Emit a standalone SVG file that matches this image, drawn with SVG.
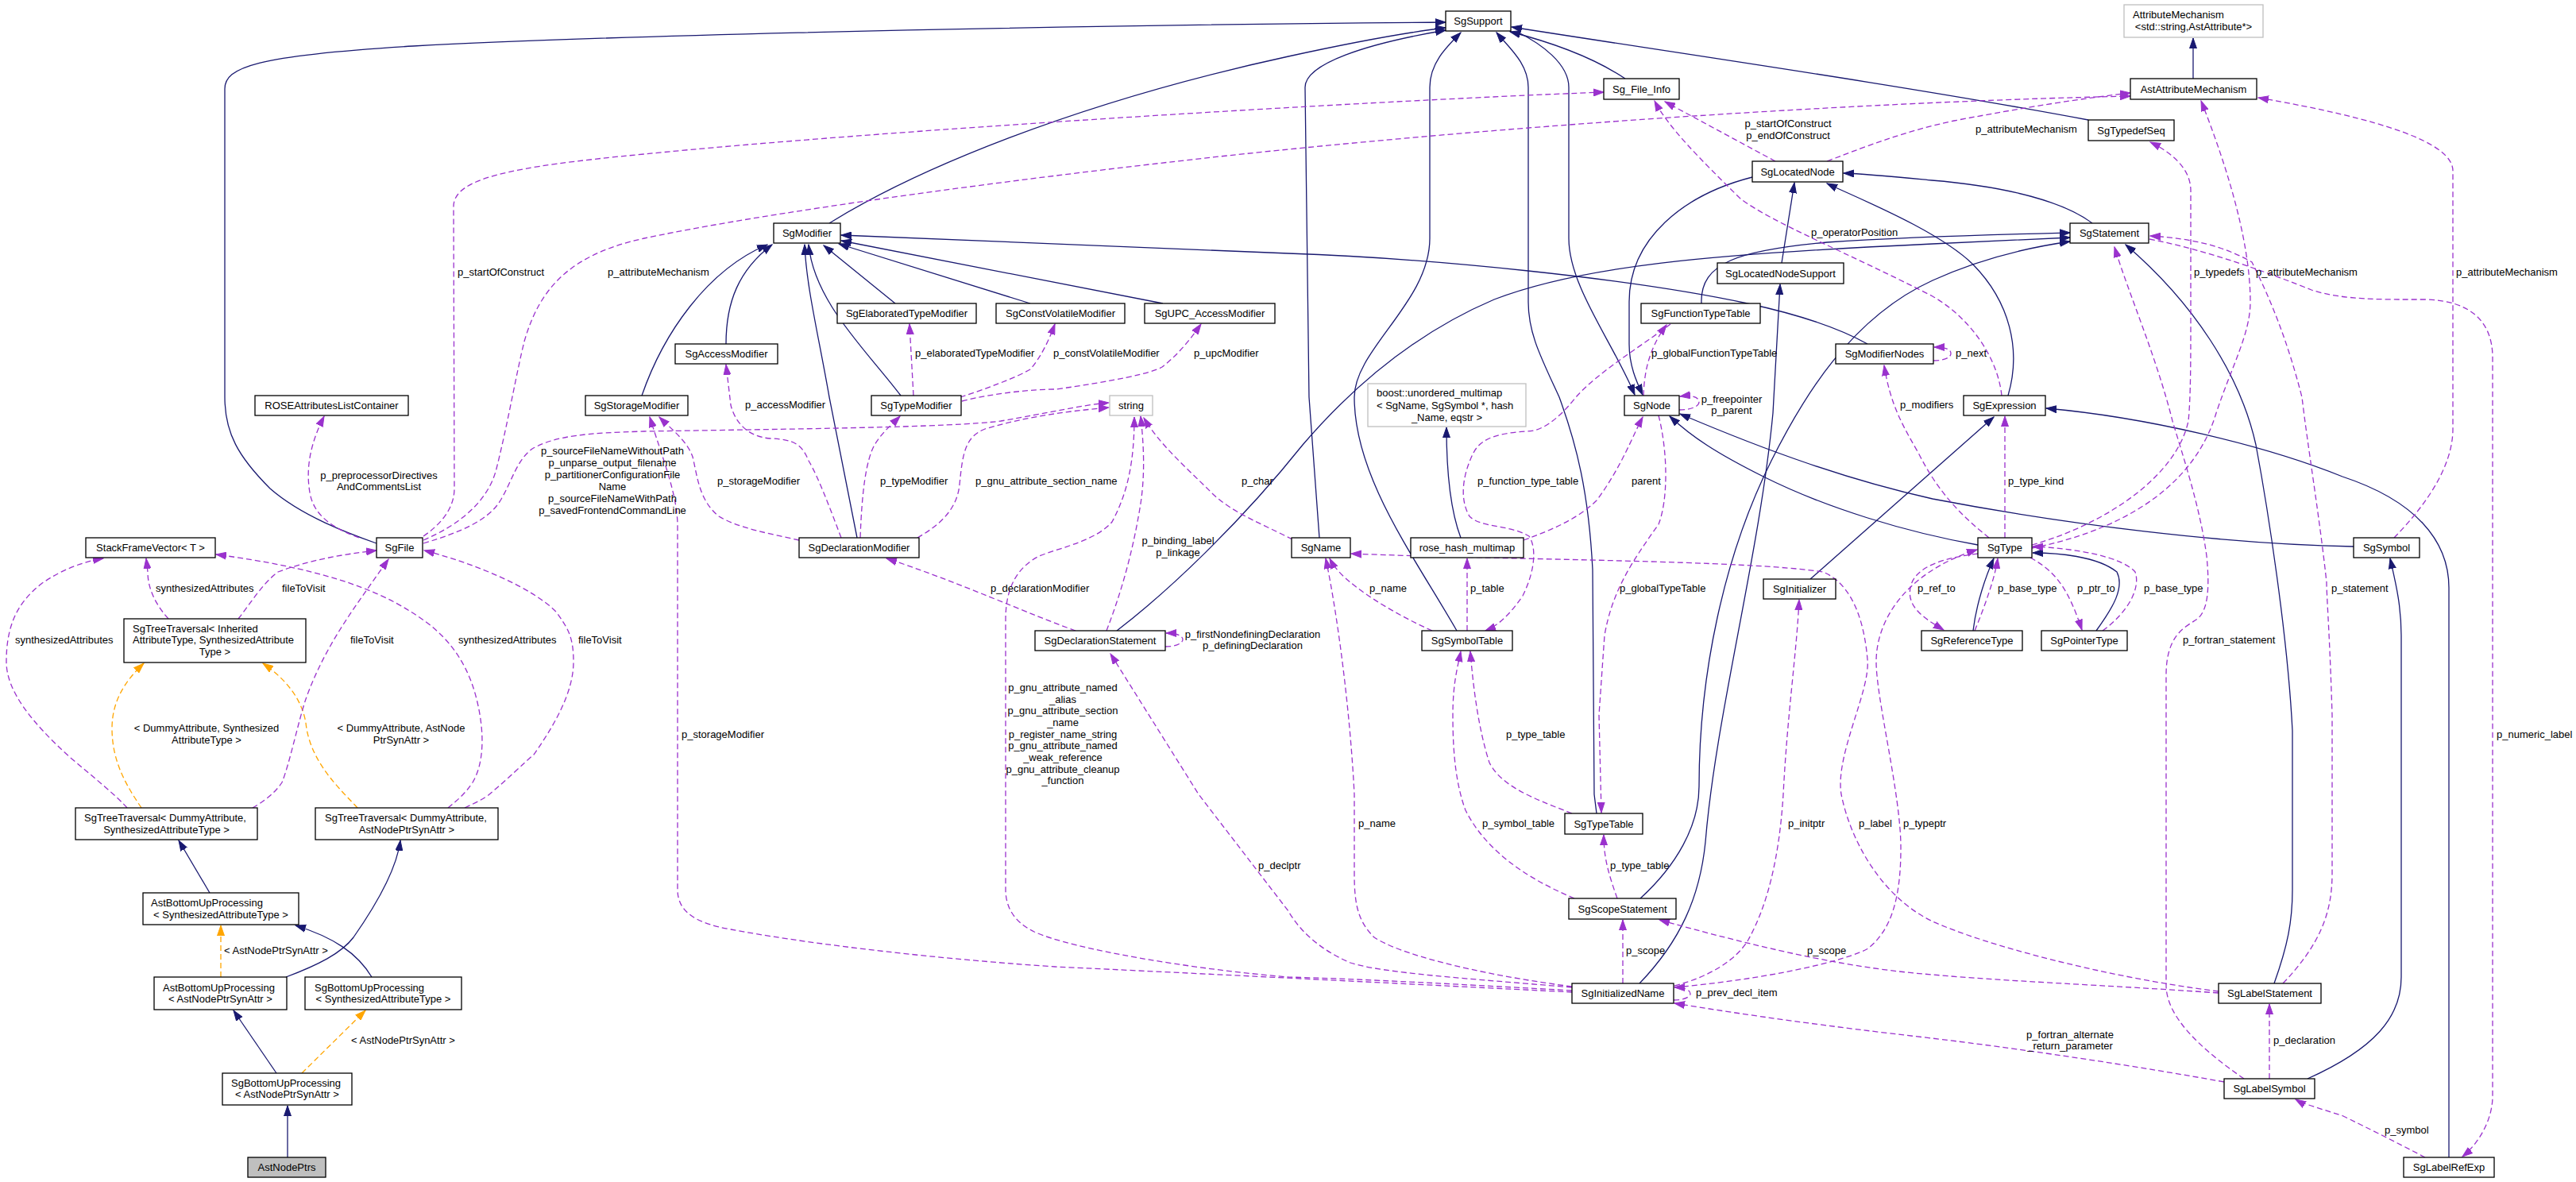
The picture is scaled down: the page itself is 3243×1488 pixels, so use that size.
<svg xmlns="http://www.w3.org/2000/svg" width="3243" height="1488" viewBox="0 0 3243 1488">
<style>
text{font-family:"Liberation Sans",Arial,sans-serif;font-size:13px;fill:#000}
.n rect{fill:#fff;stroke:#000;stroke-width:1.3}
.g rect{fill:#fff;stroke:#bfbfbf;stroke-width:1.3}
.m{text-anchor:middle}
.e path{fill:none;stroke-width:1.3}
.b{stroke:#191970;marker-end:url(#ab)}
.p{stroke:#9a32cd;stroke-dasharray:7,4;marker-end:url(#ap)}
.o{stroke:#ffa500;stroke-dasharray:7,4;marker-end:url(#ao)}
</style>
<defs>
<marker id="ab" viewBox="0 0 14 10" refX="13" refY="5" markerWidth="14" markerHeight="10" markerUnits="userSpaceOnUse" orient="auto"><path d="M0,0.5 L13,5 L0,9.5 z" fill="#191970" stroke="#191970" stroke-width="1"/></marker>
<marker id="ap" viewBox="0 0 14 10" refX="13" refY="5" markerWidth="14" markerHeight="10" markerUnits="userSpaceOnUse" orient="auto"><path d="M0,0.5 L13,5 L0,9.5 z" fill="#9a32cd" stroke="#9a32cd" stroke-width="1"/></marker>
<marker id="ao" viewBox="0 0 14 10" refX="13" refY="5" markerWidth="14" markerHeight="10" markerUnits="userSpaceOnUse" orient="auto"><path d="M0,0.5 L13,5 L0,9.5 z" fill="#ffa500" stroke="#ffa500" stroke-width="1"/></marker>
</defs>
<rect x="0" y="0" width="3243" height="1488" fill="#fff"/>
<g id="edges" class="e">
<path class="b" d="M474,684 C440,672 380,650 340,615 C300,575 283,545 283,500 L283,112 C283,85 320,70 520,58 C700,48 1200,33 1820,28"/>
<path class="b" d="M1044,281 C1150,215 1350,130 1622,71 C1700,54 1760,42 1820,35"/>
<path class="b" d="M1661,677 L1648,500 L1643,110 C1643,80 1720,55 1820,38"/>
<path class="b" d="M1834,794 C1780,700 1705,600 1705,500 C1705,440 1800,380 1800,300 L1800,110 C1800,80 1820,60 1839,41"/>
<path class="b" d="M2010,1024 L2007,1000 L2005,717 C2000,620 1985,560 1963,500 C1940,450 1924,420 1924,380 L1924,110 C1924,80 1900,60 1884,41"/>
<path class="b" d="M1910,40 C1940,55 1975,80 1975,110 L1975,300 C1975,360 2030,430 2058,497"/>
<path class="b" d="M2046,99 C2010,75 1960,55 1901,40"/>
<path class="b" d="M2629,151 C2400,108 2100,65 1903,34"/>
<path class="b" d="M2206,223 C2120,245 2051,300 2051,380 L2051,433 C2051,460 2060,480 2068,497"/>
<path class="b" d="M2243,331 L2259,230"/>
<path class="b" d="M2528,498 C2545,440 2530,380 2484,333 C2440,290 2340,250 2300,231"/>
<path class="b" d="M2634,281 C2600,255 2530,235 2432,227 C2390,223 2350,219 2321,218"/>
<path class="b" d="M2142,382 C2140,330 2190,315 2300,305 C2420,297 2520,295 2606,293"/>
<path class="b" d="M1406,794 C1470,745 1560,660 1640,560 C1700,490 1780,420 1881,377 C1990,335 2150,320 2433,307 L2606,299"/>
<path class="b" d="M2065,1131 C2110,1090 2139,1040 2139,990 C2139,850 2170,700 2230,580 C2270,500 2330,400 2433,353 C2490,327 2550,312 2606,304"/>
<path class="b" d="M2064,1238 C2115,1185 2140,1130 2147,1060 C2160,900 2215,700 2232,520 L2241,358"/>
<path class="b" d="M2863,1238 C2880,1190 2886,1160 2886,1120 L2886,920 C2880,800 2855,640 2840,560 C2820,470 2760,380 2676,308"/>
<path class="b" d="M2351,433 C2310,410 2260,395 2200,382 C2050,350 1800,325 1622,319 L1059,296"/>
<path class="b" d="M808,498 C835,420 890,340 966,308"/>
<path class="b" d="M914,433 C914,380 930,340 972,308"/>
<path class="b" d="M1079,677 L1044,500 C1030,420 1015,360 1013,308"/>
<path class="b" d="M1134,498 C1090,440 1025,380 1018,308"/>
<path class="b" d="M1127,382 L1037,309"/>
<path class="b" d="M1297,382 L1056,307"/>
<path class="b" d="M1464,382 L1059,303"/>
<path class="b" d="M2761,99 L2761,48"/>
<path class="b" d="M2490,686 C2400,670 2300,640 2220,600 C2160,570 2130,550 2102,524"/>
<path class="b" d="M2963,688 C2800,685 2600,660 2433,628 C2330,605 2230,570 2115,521"/>
<path class="b" d="M2279,729 L2510,525"/>
<path class="b" d="M3083,1457 L3083,740 C3083,680 3040,630 2949,600 C2850,560 2700,525 2576,514"/>
<path class="b" d="M2905,1358 C2990,1320 3023,1280 3023,1230 L3023,800 C3023,760 3015,730 3009,703"/>
<path class="b" d="M2484,794 C2488,760 2500,725 2510,703"/>
<path class="b" d="M2639,794 C2660,765 2675,740 2665,720 C2640,700 2590,696 2559,696"/>
<path class="b" d="M1839,677 C1825,640 1821,590 1821,538"/>
<path class="b" d="M264,1124 L225,1058"/>
<path class="b" d="M468,1230 C450,1200 420,1180 372,1165"/>
<path class="b" d="M360,1230 C400,1215 430,1200 445,1180 C480,1130 500,1090 504,1058"/>
<path class="b" d="M348,1351 L294,1272"/>
<path class="b" d="M362,1457 L362,1392"/>
<path class="o" d="M178,1017 C160,990 141,960 141,917 C141,880 160,855 181,835"/>
<path class="o" d="M450,1017 C430,995 390,960 385,910 C380,880 360,855 331,835"/>
<path class="o" d="M278,1230 L278,1165"/>
<path class="o" d="M380,1351 L460,1272"/>
<path class="p" d="M533,675 C555,660 572,640 572,615 L571,260 C571,225 640,210 811,194 C1100,165 1700,128 2019,116"/>
<path class="p" d="M533,680 C580,660 615,630 625,590 C640,530 650,470 660,430 C680,360 720,320 811,300 C1000,260 1400,210 1622,188 C2000,150 2400,127 2682,121"/>
<path class="p" d="M2300,203 C2360,180 2400,165 2460,152 C2550,135 2620,124 2682,117"/>
<path class="p" d="M2235,203 L2096,128"/>
<path class="p" d="M2520,498 C2515,450 2480,400 2433,373 C2330,320 2230,280 2191,250 C2140,200 2100,160 2083,127"/>
<path class="p" d="M2558,686 C2650,660 2740,600 2755,530 C2758,500 2758,450 2758,400 L2758,240 C2758,210 2730,190 2707,179"/>
<path class="p" d="M2558,690 C2660,670 2760,620 2790,520 C2810,460 2833,420 2833,380 C2833,300 2800,200 2771,127"/>
<path class="p" d="M3014,677 C3050,640 3088,590 3088,540 L3088,215 C3088,180 3000,150 2843,123"/>
<path class="p" d="M2706,301 C2780,315 2860,345 2910,365 C2950,378 3000,377 3053,377 C3110,378 3138,405 3138,450 L3138,1380 C3138,1410 3120,1440 3100,1456"/>
<path class="p" d="M2874,1238 C2920,1190 2936,1150 2936,1100 L2936,900 C2933,800 2929,750 2929,733 C2920,650 2905,560 2898,500 C2880,430 2860,380 2835,330 C2800,310 2760,300 2707,297"/>
<path class="p" d="M2825,1358 C2770,1320 2727,1280 2727,1240 L2727,850 C2727,800 2750,790 2765,780 C2780,770 2782,740 2778,700 C2770,640 2750,580 2735,530 C2715,450 2680,370 2662,311"/>
<path class="p" d="M2434,454 C2448,454 2456,450 2456,445 C2456,440 2450,437 2435,437"/>
<path class="p" d="M2504,677 C2470,650 2440,620 2415,570 C2395,535 2380,510 2372,460"/>
<path class="p" d="M2524,677 L2524,524"/>
<path class="p" d="M2490,697 C2450,702 2410,712 2405,740 C2400,765 2425,780 2447,793"/>
<path class="p" d="M2486,794 C2500,760 2512,725 2515,703"/>
<path class="p" d="M2556,702 C2590,720 2605,745 2621,793"/>
<path class="p" d="M2647,794 C2680,770 2695,740 2688,720 C2670,700 2610,690 2559,688"/>
<path class="p" d="M2108,1243 C2200,1235 2310,1215 2350,1195 C2385,1170 2393,1120 2393,1067 C2393,1000 2362,880 2362,833 C2362,780 2400,720 2489,692"/>
<path class="p" d="M2793,1248 C2650,1230 2500,1190 2433,1160 C2370,1130 2330,1060 2318,1000 C2310,950 2355,870 2351,830 C2345,760 2320,730 2295,720 C2200,705 1900,705 1701,697"/>
<path class="p" d="M2043,1238 L2043,1158"/>
<path class="p" d="M2793,1250 C2650,1240 2520,1235 2433,1227 C2340,1220 2240,1200 2089,1158"/>
<path class="p" d="M2036,1131 C2025,1100 2019,1080 2019,1051"/>
<path class="p" d="M1982,1131 C1920,1105 1870,1070 1845,1020 C1830,980 1829,930 1829,900 C1829,860 1835,840 1839,820"/>
<path class="p" d="M1979,1024 C1930,1005 1890,990 1875,960 C1862,920 1855,870 1851,820"/>
<path class="p" d="M2069,498 C2070,470 2075,440 2098,409"/>
<path class="p" d="M2103,408 C2060,440 2010,470 1984,500 C1960,530 1940,543 1922,543 C1890,545 1865,550 1855,570 C1840,600 1838,630 1850,650 C1865,665 1900,660 1925,675 C1935,690 1932,720 1917,750 C1900,775 1885,788 1870,794"/>
<path class="p" d="M1918,680 C1960,665 1990,650 2010,630 C2040,590 2055,550 2068,525"/>
<path class="p" d="M2088,523 C2100,570 2100,630 2088,660 C2060,700 2030,740 2020,800 L2013,900 L2016,1023"/>
<path class="p" d="M2114,516 C2128,516 2139,512 2139,506 C2139,500 2130,497 2115,499"/>
<path class="p" d="M1803,794 C1760,775 1720,750 1700,733 C1690,725 1680,715 1674,703"/>
<path class="p" d="M1979,1242 C1850,1225 1760,1200 1730,1180 C1710,1160 1705,1140 1705,1100 L1705,1000 C1700,900 1685,780 1669,703"/>
<path class="p" d="M1627,679 C1590,660 1550,645 1525,620 C1495,590 1460,560 1440,526"/>
<path class="p" d="M1393,794 C1410,750 1425,700 1435,640 C1442,600 1440,560 1436,524"/>
<path class="p" d="M1155,677 C1185,660 1205,640 1208,610 C1212,570 1215,550 1240,540 C1290,525 1340,518 1396,513"/>
<path class="p" d="M533,684 C580,670 615,655 630,630 C645,605 650,580 670,565 C700,548 740,545 811,543 C1000,540 1200,538 1260,530 C1320,520 1360,510 1396,507"/>
<path class="p" d="M452,677 C420,665 395,650 390,620 C385,590 390,560 408,524"/>
<path class="p" d="M212,779 C195,760 186,740 186,720 L184,703"/>
<path class="p" d="M300,779 C315,760 330,735 350,720 C390,705 430,698 474,693"/>
<path class="p" d="M160,1017 C150,1005 120,980 90,955 C40,910 8,870 8,833 C8,790 20,760 52,735 C80,715 110,706 130,703"/>
<path class="p" d="M318,1017 C330,1010 345,1000 355,985 C365,960 375,910 385,880 C410,810 450,760 489,704"/>
<path class="p" d="M564,1017 C575,1008 585,1000 595,985 C610,960 610,920 600,880 C585,820 550,790 517,770 C470,740 400,715 272,698"/>
<path class="p" d="M585,1017 C600,1010 610,1005 616,1000 C640,980 660,960 672,950 C700,910 722,870 722,833 C722,800 714,790 700,770 C670,740 600,710 534,693"/>
<path class="p" d="M1354,794 C1300,775 1200,730 1116,703"/>
<path class="p" d="M1006,680 C970,672 930,665 905,650 C880,630 878,600 872,575 C865,555 845,540 830,525"/>
<path class="p" d="M1059,677 C1045,640 1030,600 1018,580 C1010,560 1000,553 970,552 C940,550 925,530 920,510 L914,459"/>
<path class="p" d="M1083,677 C1085,620 1090,580 1101,560 C1110,545 1122,535 1133,524"/>
<path class="p" d="M1150,498 L1145,408"/>
<path class="p" d="M1209,500 C1240,490 1280,475 1297,465 C1310,450 1320,430 1328,408"/>
<path class="p" d="M1211,505 C1250,495 1300,490 1330,490 C1400,480 1450,470 1463,462 C1485,445 1500,425 1512,408"/>
<path class="p" d="M1467,814 C1480,814 1489,810 1489,805 C1489,800 1480,797 1468,797"/>
<path class="p" d="M1979,1243 C1850,1232 1740,1225 1700,1212 C1660,1195 1635,1170 1622,1147 L1509,1000 L1398,823"/>
<path class="p" d="M1979,1247 C1800,1237 1700,1232 1622,1230 C1500,1220 1350,1195 1302,1173 C1275,1160 1266,1140 1266,1120 L1266,780 C1266,740 1280,715 1308,700 C1340,688 1380,680 1400,657 C1420,620 1428,580 1428,525"/>
<path class="p" d="M1979,1249 C1800,1240 1500,1225 1328,1217 C1150,1205 1000,1185 920,1170 C880,1163 853,1150 853,1120 L853,660 C852,620 835,580 818,525"/>
<path class="p" d="M2857,1358 L2857,1264"/>
<path class="p" d="M3053,1457 C3030,1445 3001,1430 2950,1405 C2920,1395 2900,1390 2890,1384"/>
<path class="p" d="M2800,1362 C2650,1335 2500,1315 2432,1307 C2300,1292 2200,1278 2108,1263"/>
<path class="p" d="M2107,1259 C2120,1259 2128,1255 2128,1251 C2128,1246 2120,1243 2108,1243"/>
<path class="p" d="M2108,1241 C2150,1230 2185,1210 2201,1183 C2225,1140 2240,1080 2245,1000 C2250,900 2262,820 2265,755"/>
<path class="p" d="M1847,794 L1847,703"/>
</g>
<g id="edge-labels">
<text x="576" y="347">p_startOfConstruct</text>
<text x="765" y="347">p_attributeMechanism</text>
<text class="m" x="477" y="603">p_preprocessorDirectives</text>
<text class="m" x="477" y="617">AndCommentsList</text>
<text class="m" x="771" y="572">p_sourceFileNameWithoutPath</text>
<text class="m" x="771" y="587">p_unparse_output_filename</text>
<text class="m" x="771" y="602">p_partitionerConfigurationFile</text>
<text class="m" x="771" y="617">Name</text>
<text class="m" x="771" y="632">p_sourceFileNameWithPath</text>
<text class="m" x="771" y="647">p_savedFrontendCommandLine</text>
<text x="196" y="745">synthesizedAttributes</text>
<text x="355" y="745">fileToVisit</text>
<text x="19" y="810">synthesizedAttributes</text>
<text x="441" y="810">fileToVisit</text>
<text x="577" y="810">synthesizedAttributes</text>
<text x="728" y="810">fileToVisit</text>
<text class="m" x="260" y="921">&lt; DummyAttribute, Synthesized</text>
<text class="m" x="260" y="936">AttributeType &gt;</text>
<text class="m" x="505" y="921">&lt; DummyAttribute, AstNode</text>
<text class="m" x="505" y="936">PtrSynAttr &gt;</text>
<text x="282" y="1201">&lt; AstNodePtrSynAttr &gt;</text>
<text x="442" y="1314">&lt; AstNodePtrSynAttr &gt;</text>
<text x="1152" y="449">p_elaboratedTypeModifier</text>
<text x="1326" y="449">p_constVolatileModifier</text>
<text x="1503" y="449">p_upcModifier</text>
<text x="938" y="514">p_accessModifier</text>
<text x="903" y="610">p_storageModifier</text>
<text x="1108" y="610">p_typeModifier</text>
<text x="1228" y="610">p_gnu_attribute_section_name</text>
<text x="1563" y="610">p_char</text>
<text class="m" x="1483" y="685">p_binding_label</text>
<text class="m" x="1483" y="700">p_linkage</text>
<text x="1247" y="745">p_declarationModifier</text>
<text class="m" x="1577" y="803">p_firstNondefiningDeclaration</text>
<text class="m" x="1577" y="817">p_definingDeclaration</text>
<text class="m" x="1338" y="870">p_gnu_attribute_named</text>
<text class="m" x="1338" y="885">_alias</text>
<text class="m" x="1338" y="899">p_gnu_attribute_section</text>
<text class="m" x="1338" y="914">_name</text>
<text class="m" x="1338" y="929">p_register_name_string</text>
<text class="m" x="1338" y="943">p_gnu_attribute_named</text>
<text class="m" x="1338" y="958">_weak_reference</text>
<text class="m" x="1338" y="973">p_gnu_attribute_cleanup</text>
<text class="m" x="1338" y="987">_function</text>
<text x="858" y="929">p_storageModifier</text>
<text x="1584" y="1094">p_declptr</text>
<text class="m" x="2251" y="160">p_startOfConstruct</text>
<text class="m" x="2251" y="175">p_endOfConstruct</text>
<text x="2280" y="297">p_operatorPosition</text>
<text x="2079" y="449">p_globalFunctionTypeTable</text>
<text x="2487" y="167">p_attributeMechanism</text>
<text x="2762" y="347">p_typedefs</text>
<text x="2840" y="347">p_attributeMechanism</text>
<text x="3092" y="347">p_attributeMechanism</text>
<text x="2462" y="449">p_next</text>
<text class="m" x="2180" y="507">p_freepointer</text>
<text class="m" x="2180" y="521">p_parent</text>
<text x="1860" y="610">p_function_type_table</text>
<text x="2054" y="610">parent</text>
<text x="1724" y="745">p_name</text>
<text x="1851" y="745">p_table</text>
<text x="2039" y="745">p_globalTypeTable</text>
<text x="2392" y="514">p_modifiers</text>
<text x="1896" y="929">p_type_table</text>
<text x="2528" y="610">p_type_kind</text>
<text x="2414" y="745">p_ref_to</text>
<text x="2515" y="745">p_base_type</text>
<text x="2615" y="745">p_ptr_to</text>
<text x="2699" y="745">p_base_type</text>
<text x="2935" y="745">p_statement</text>
<text x="2748" y="810">p_fortran_statement</text>
<text x="3143" y="929">p_numeric_label</text>
<text x="1710" y="1041">p_name</text>
<text x="1866" y="1041">p_symbol_table</text>
<text x="2251" y="1041">p_initptr</text>
<text x="2340" y="1041">p_label</text>
<text x="2396" y="1041">p_typeptr</text>
<text x="2027" y="1094">p_type_table</text>
<text x="2047" y="1201">p_scope</text>
<text x="2275" y="1201">p_scope</text>
<text x="2135" y="1254">p_prev_decl_item</text>
<text class="m" x="2606" y="1307">p_fortran_alternate</text>
<text class="m" x="2606" y="1321">_return_parameter</text>
<text x="2862" y="1314">p_declaration</text>
<text x="3002" y="1427">p_symbol</text>
</g>
<g id="SgSupport" class="n"><rect x="1820" y="14" width="82" height="25"/><text class="m" x="1861" y="31">SgSupport</text></g>
<g id="AttributeMechanism" class="g"><rect x="2674" y="6" width="175" height="41"/><text x="2685" y="22.5">AttributeMechanism</text><text class="m" x="2761.5" y="37.5">&lt;std::string,AstAttribute*&gt;</text></g>
<g id="Sg_File_Info" class="n"><rect x="2019" y="99" width="95" height="26"/><text class="m" x="2066.5" y="116.5">Sg_File_Info</text></g>
<g id="AstAttributeMechanism" class="n"><rect x="2682" y="99" width="159" height="26"/><text class="m" x="2761.5" y="116.5">AstAttributeMechanism</text></g>
<g id="SgTypedefSeq" class="n"><rect x="2629" y="151" width="108" height="26"/><text class="m" x="2683" y="168.5">SgTypedefSeq</text></g>
<g id="SgLocatedNode" class="n"><rect x="2206" y="203" width="114" height="26"/><text class="m" x="2263" y="220.5">SgLocatedNode</text></g>
<g id="SgModifier" class="n"><rect x="974" y="281" width="84" height="25"/><text class="m" x="1016" y="298">SgModifier</text></g>
<g id="SgStatement" class="n"><rect x="2606" y="281" width="99" height="25"/><text class="m" x="2655.5" y="298">SgStatement</text></g>
<g id="SgLocatedNodeSupport" class="n"><rect x="2162" y="331" width="159" height="26"/><text class="m" x="2241.5" y="348.5">SgLocatedNodeSupport</text></g>
<g id="SgElaboratedTypeModifier" class="n"><rect x="1054" y="382" width="175" height="25"/><text class="m" x="1141.5" y="399">SgElaboratedTypeModifier</text></g>
<g id="SgConstVolatileModifier" class="n"><rect x="1254" y="382" width="162" height="25"/><text class="m" x="1335" y="399">SgConstVolatileModifier</text></g>
<g id="SgUPC_AccessModifier" class="n"><rect x="1441" y="382" width="164" height="25"/><text class="m" x="1523" y="399">SgUPC_AccessModifier</text></g>
<g id="SgFunctionTypeTable" class="n"><rect x="2066" y="382" width="150" height="25"/><text class="m" x="2141" y="399">SgFunctionTypeTable</text></g>
<g id="SgAccessModifier" class="n"><rect x="850" y="433" width="129" height="25"/><text class="m" x="914.5" y="450">SgAccessModifier</text></g>
<g id="SgModifierNodes" class="n"><rect x="2311" y="433" width="123" height="25"/><text class="m" x="2372.5" y="450">SgModifierNodes</text></g>
<g id="ROSEAttributesListContainer" class="n"><rect x="321" y="498" width="193" height="25"/><text class="m" x="417.5" y="515">ROSEAttributesListContainer</text></g>
<g id="SgStorageModifier" class="n"><rect x="737" y="498" width="129" height="25"/><text class="m" x="801.5" y="515">SgStorageModifier</text></g>
<g id="SgTypeModifier" class="n"><rect x="1097" y="498" width="113" height="25"/><text class="m" x="1153.5" y="515">SgTypeModifier</text></g>
<g id="string" class="g"><rect x="1397" y="498" width="54" height="25"/><text class="m" x="1424" y="515">string</text></g>
<g id="boost_unordered_multimap" class="g"><rect x="1722" y="483" width="199" height="54"/><text x="1733" y="498.5">boost::unordered_multimap</text><text x="1733" y="514.5">&lt; SgName, SgSymbol *, hash</text><text class="m" x="1821.5" y="529.5">_Name, eqstr &gt;</text></g>
<g id="SgNode" class="n"><rect x="2045" y="498" width="69" height="25"/><text class="m" x="2079.5" y="515">SgNode</text></g>
<g id="SgExpression" class="n"><rect x="2472" y="498" width="103" height="25"/><text class="m" x="2523.5" y="515">SgExpression</text></g>
<g id="StackFrameVector" class="n"><rect x="108" y="677" width="163" height="25"/><text class="m" x="189.5" y="694">StackFrameVector&lt; T &gt;</text></g>
<g id="SgFile" class="n"><rect x="474" y="677" width="58" height="25"/><text class="m" x="503" y="694">SgFile</text></g>
<g id="SgDeclarationModifier" class="n"><rect x="1006" y="677" width="151" height="25"/><text class="m" x="1081.5" y="694">SgDeclarationModifier</text></g>
<g id="SgName" class="n"><rect x="1626" y="677" width="74" height="25"/><text class="m" x="1663" y="694">SgName</text></g>
<g id="rose_hash_multimap" class="n"><rect x="1776" y="677" width="142" height="25"/><text class="m" x="1847" y="694">rose_hash_multimap</text></g>
<g id="SgType" class="n"><rect x="2490" y="677" width="68" height="25"/><text class="m" x="2524" y="694">SgType</text></g>
<g id="SgSymbol" class="n"><rect x="2963" y="677" width="83" height="25"/><text class="m" x="3004.5" y="694">SgSymbol</text></g>
<g id="SgInitializer" class="n"><rect x="2220" y="729" width="91" height="25"/><text class="m" x="2265.5" y="746">SgInitializer</text></g>
<g id="SgTreeTraversal_Inherited" class="n"><rect x="156" y="779" width="229" height="55"/><text x="167" y="795.5">SgTreeTraversal&lt; Inherited</text><text x="167" y="810">AttributeType, SynthesizedAttribute</text><text class="m" x="270.5" y="824.5">Type &gt;</text></g>
<g id="SgDeclarationStatement" class="n"><rect x="1303" y="794" width="164" height="25"/><text class="m" x="1385" y="811">SgDeclarationStatement</text></g>
<g id="SgSymbolTable" class="n"><rect x="1790" y="794" width="114" height="25"/><text class="m" x="1847" y="811">SgSymbolTable</text></g>
<g id="SgReferenceType" class="n"><rect x="2419" y="794" width="127" height="25"/><text class="m" x="2482.5" y="811">SgReferenceType</text></g>
<g id="SgPointerType" class="n"><rect x="2570" y="794" width="108" height="25"/><text class="m" x="2624" y="811">SgPointerType</text></g>
<g id="SgTreeTraversal_Dummy_Synth" class="n"><rect x="95" y="1017" width="229" height="40"/><text x="106" y="1033.5">SgTreeTraversal&lt; DummyAttribute,</text><text class="m" x="209.5" y="1048.5">SynthesizedAttributeType &gt;</text></g>
<g id="SgTreeTraversal_Dummy_AstNodePtr" class="n"><rect x="397" y="1017" width="230" height="40"/><text x="409" y="1033.5">SgTreeTraversal&lt; DummyAttribute,</text><text class="m" x="512" y="1048.5">AstNodePtrSynAttr &gt;</text></g>
<g id="SgTypeTable" class="n"><rect x="1970" y="1024" width="98" height="26"/><text class="m" x="2019" y="1041.5">SgTypeTable</text></g>
<g id="AstBottomUpProcessing_Synth" class="n"><rect x="180" y="1124" width="196" height="40"/><text x="190" y="1140.5">AstBottomUpProcessing</text><text class="m" x="278" y="1155.5">&lt; SynthesizedAttributeType &gt;</text></g>
<g id="SgScopeStatement" class="n"><rect x="1975" y="1131" width="135" height="26"/><text class="m" x="2042.5" y="1148.5">SgScopeStatement</text></g>
<g id="AstBottomUpProcessing_AstNodePtr" class="n"><rect x="194" y="1230" width="167" height="41"/><text x="205" y="1247.5">AstBottomUpProcessing</text><text class="m" x="277.5" y="1261.5">&lt; AstNodePtrSynAttr &gt;</text></g>
<g id="SgBottomUpProcessing_Synth" class="n"><rect x="384" y="1230" width="197" height="41"/><text x="396" y="1247.5">SgBottomUpProcessing</text><text class="m" x="482.5" y="1261.5">&lt; SynthesizedAttributeType &gt;</text></g>
<g id="SgInitializedName" class="n"><rect x="1979" y="1238" width="128" height="25"/><text class="m" x="2043" y="1255">SgInitializedName</text></g>
<g id="SgLabelStatement" class="n"><rect x="2793" y="1238" width="129" height="25"/><text class="m" x="2857.5" y="1255">SgLabelStatement</text></g>
<g id="SgBottomUpProcessing_AstNodePtr" class="n"><rect x="280" y="1351" width="163" height="40"/><text x="291" y="1367.5">SgBottomUpProcessing</text><text class="m" x="361.5" y="1381.5">&lt; AstNodePtrSynAttr &gt;</text></g>
<g id="SgLabelSymbol" class="n"><rect x="2800" y="1358" width="114" height="25"/><text class="m" x="2857" y="1375">SgLabelSymbol</text></g>
<g id="AstNodePtrs" class="n"><rect x="312" y="1457" width="98" height="25" style="fill:#bfbfbf"/><text class="m" x="361" y="1474">AstNodePtrs</text></g>
<g id="SgLabelRefExp" class="n"><rect x="3026" y="1457" width="114" height="25"/><text class="m" x="3083" y="1474">SgLabelRefExp</text></g>
</svg>
